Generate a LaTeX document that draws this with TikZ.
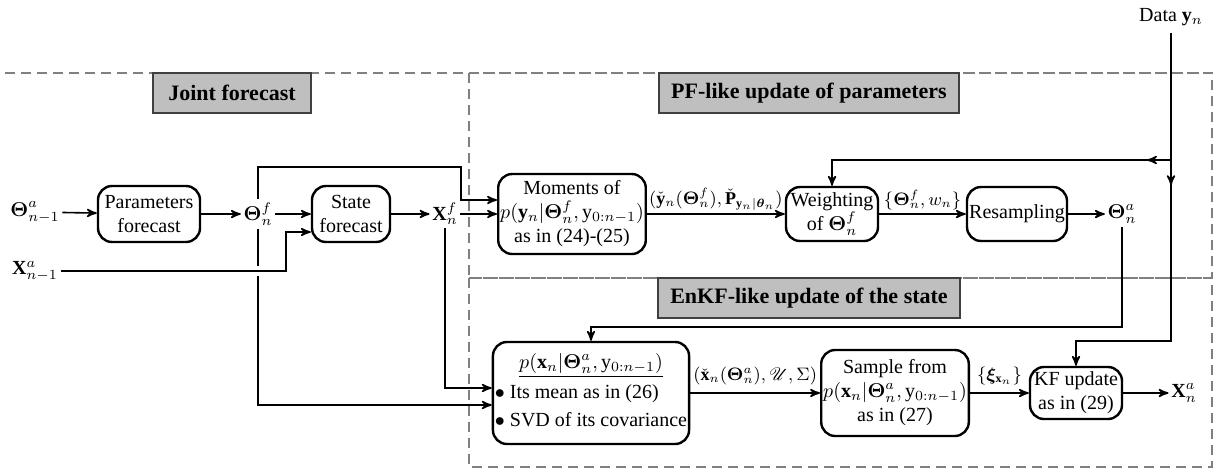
\documentclass[tikz,border=0pt]{standalone}
\usepackage{amsmath, amssymb}
\usepackage{bm}
\usepackage{mathrsfs}
\usepackage{fontspec}
\setmainfont{Liberation Serif}
\usetikzlibrary{arrows,calc}
\usetikzlibrary{decorations.markings}
\tikzset{
  procbox/.style = {draw=black, very thick, rounded corners=7pt, align=center,
    inner sep=1pt, fill=white, font=\fontsize{10}{12}\selectfont},% processing step
  titlebox/.style = {draw=black!75, very thick, fill=gray!50, inner xsep=6pt,
    minimum height=20pt, font=\fontsize{11}{13}\selectfont\bfseries},% zone title
  varnode/.style = {inner sep=1pt},% ensemble / data symbol
  edgelbl/.style = {above, inner sep=1.5pt, font=\small},% label over a connector
  zone/.style = {-, gray, semithick, dash pattern=on 5pt off 3pt},% dashed zone
  midtip/.style = {decoration={markings, mark=at position #1 with {\arrow{stealth'}}},
    postaction={decorate}}% arrow head in the middle of a line
}

\begin{document}
\begin{tikzpicture}[->,>=stealth', thick, x=0.5pt, y=-0.5pt]
\useasboundingbox (0,0) rectangle (1227,472);

% zones
\draw[zone] (5,73) -- (1212,73);
\draw[zone] (469,73) rectangle (1212,278);
\draw[zone] (469,278) rectangle (1212,467);

\node [titlebox, minimum width=79pt] (tjoint) at (232,93) {Joint forecast};
\node [titlebox, minimum width=142pt] (tpf) at (809,93) {PF-like update of parameters};
\node [titlebox, minimum width=142pt] (tenkf) at (809,298) {EnKF-like update of the state};

% joint forecast
\node [varnode] (thprev) at (35,212) {$\bm{\Theta}_{n-1}^a$};
\node [varnode] (xprev) at (35,271) {$\mathbf{X}_{n-1}^a$};
\node [procbox, minimum width=51pt, minimum height=28pt] (pfc) at (149,214) {Parameters\\forecast};
\node [varnode] (thf) at (258,214) {$\bm{\Theta}_n^f$};
\node [procbox, minimum width=39pt, minimum height=28pt] (sfc) at (351,214) {State\\forecast};
\node [varnode] (xf) at (445,214) {$\mathbf{X}_n^f$};

% PF-like update
\node [procbox, minimum width=70pt, minimum height=40pt] (mom) at (572,214)
  {Moments of\\$p(\mathbf{y}_n|\bm{\Theta}_n^f,\mathrm{y}_{0:n-1})$\\as in (24)-(25)};
\node [procbox, minimum width=46pt, minimum height=27pt] (wgt) at (832,214) {Weighting\\of $\bm{\Theta}_n^f$};
\node [procbox, minimum width=50pt, minimum height=27pt] (rsm) at (1017,214) {Resampling};
\node [varnode] (tha) at (1122,214) {$\bm{\Theta}_n^a$};
\node (data) at (1171,17) {Data $\mathbf{y}_n$};

% EnKF-like update
\node [procbox, minimum width=98pt, minimum height=51pt] (pxb) at (591,393)
  {\begin{tabular}{@{}l@{}}
   \multicolumn{1}{@{}c@{}}{\underline{$p(\mathbf{x}_n|\bm{\Theta}_n^a,\mathrm{y}_{0:n-1})$}}\\[3pt]
   $\bullet$ Its mean as in (26)\\[2pt]
   $\bullet$ SVD of its covariance
   \end{tabular}};
\node [procbox, minimum width=72pt, minimum height=43pt] (smp) at (895,393)
  {Sample from\\$p(\mathbf{x}_n|\bm{\Theta}_n^a,\mathrm{y}_{0:n-1})$\\as in (27)};
\node [procbox, minimum width=46pt, minimum height=26pt] (kfu) at (1076,393) {KF update\\as in (29)};
\node [varnode] (xa) at (1184,393) {$\mathbf{X}_n^a$};

\coordinate (thloop) at (461,167);
\coordinate (dsplit) at (1171,160);

% forecast chain
\draw (thprev) -- (pfc);
\draw (pfc) -- (thf);
\draw (thf) -- (sfc);
\draw (sfc) -- (xf);
\draw (xf) -- (mom);
\draw (thf.north) |- (thloop) |- ($(mom.west)+(0,-14)$);
\draw (thf.south) |- ($(pxb.west)+(0,12)$);
\draw (xf.south) |- ($(pxb.west)+(0,-5)$);
\draw [preaction={draw=white, line width=5pt, -, shorten >=4pt, shorten <=2pt}]
  (xprev.east) -| ($(sfc.west)+(-25,18)$) -- ($(sfc.west)+(0,18)$);

% parameter update
\draw (mom) -- node[edgelbl] {$(\check{\mathbf{y}}_n(\bm{\Theta}_n^f),\check{\mathbf{P}}_{\mathbf{y}_n|\bm{\theta}_n})$} (wgt);
\draw (wgt) -- node[edgelbl] {$\{\bm{\Theta}_n^f,w_n\}$} (rsm);
\draw (rsm) -- (tha);
\draw [midtip=76pt] (data.south) |- ($(kfu.north)+(0,-25)$) -- (kfu.north);
\draw [midtip=12pt] (dsplit) -| (wgt.north);

% state update
\draw (tha.south) |- ($(pxb.north)+(0,-14)$) -- (pxb.north);
\draw (pxb) -- node[edgelbl, yshift=2pt] {$(\check{\mathbf{x}}_n(\bm{\Theta}_n^a),\mathscr{U},\Sigma)$} (smp);
\draw (smp) -- node[edgelbl, yshift=2pt] {$\{\bm{\xi}_{\mathbf{x}_n}\}$} (kfu);
\draw (kfu) -- (xa);
\end{tikzpicture}
\end{document}
